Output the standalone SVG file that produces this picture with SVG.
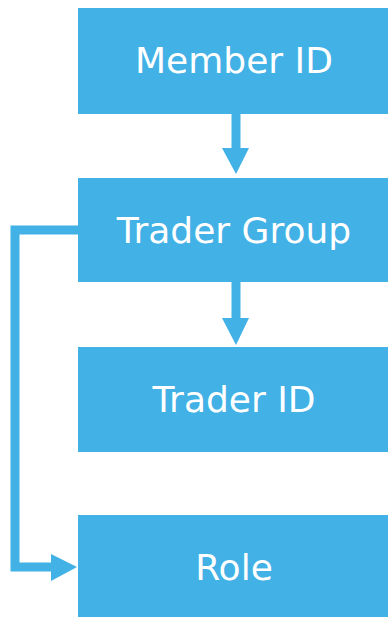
<svg xmlns="http://www.w3.org/2000/svg" width="388" height="617" viewBox="0 0 388 617">
<style>
.box{fill:#41b1e6}
.lbl{font-family:"DejaVu Sans",sans-serif;font-size:36px;fill:#ffffff;text-anchor:middle}
.ln{stroke:#41b1e6;stroke-width:9;fill:none}
.hd{fill:#41b1e6}
</style>
<rect width="388" height="617" fill="#ffffff"/>
<g id="member-id"><rect class="box" x="78" y="8" width="310" height="106"/><text class="lbl" x="234" y="73">Member ID</text></g>
<g id="trader-group"><rect class="box" x="78" y="178" width="310" height="104"/><text class="lbl" x="234" y="243">Trader Group</text></g>
<g id="trader-id"><rect class="box" x="78" y="347" width="310" height="105"/><text class="lbl" x="234" y="412">Trader ID</text></g>
<g id="role"><rect class="box" x="78" y="515" width="310" height="102"/><text class="lbl" x="234" y="580">Role</text></g>
<g id="connectors">
<line class="ln" x1="236" y1="114" x2="236" y2="149"/>
<polygon class="hd" points="222,148 249,148 236,174"/>
<line class="ln" x1="236" y1="282" x2="236" y2="319"/>
<polygon class="hd" points="222,318 249,318 236,345"/>
<polyline class="ln" points="78,230 15,230 15,567 52,567"/>
<polygon class="hd" points="51,554 51,581 77,567"/>
</g>
</svg>
